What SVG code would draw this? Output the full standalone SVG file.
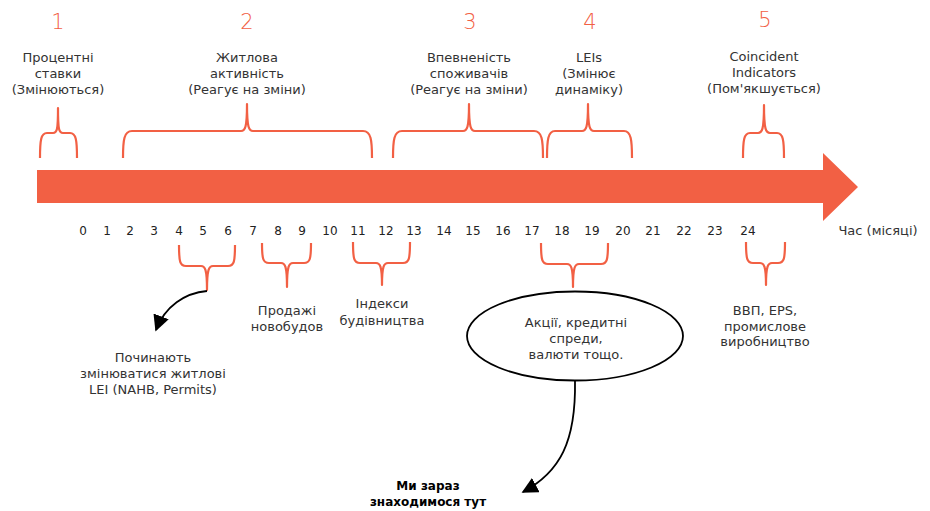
<svg xmlns="http://www.w3.org/2000/svg" width="930" height="511" viewBox="0 0 930 511">
<defs>
<style>
.num{font-family:"DejaVu Sans","Liberation Sans",sans-serif;font-size:21px;fill:#F26044;text-anchor:middle;font-weight:300}
.lbl{font-family:"DejaVu Sans","Liberation Sans",sans-serif;font-size:13px;fill:#333;text-anchor:middle}
.tick{font-family:"DejaVu Sans","Liberation Sans",sans-serif;font-size:12px;fill:#222;text-anchor:middle}
.bold{font-family:"DejaVu Sans","Liberation Sans",sans-serif;font-size:12px;fill:#000;text-anchor:middle;font-weight:bold}
.brace{fill:none;stroke:#F26044;stroke-width:2.2;stroke-linejoin:round}
.conn{fill:none;stroke:#000;stroke-width:1.8}
</style>
<marker id="ah" viewBox="0 0 10 10" refX="9" refY="5" markerWidth="9" markerHeight="9" orient="auto" markerUnits="strokeWidth">
<path d="M0,0 L10,5 L0,10 Z" fill="#000"/>
</marker>
</defs>
<rect width="930" height="511" fill="#fff"/>

<g id="timeline">
<path d="M37,170 H823 V153 L858,187 L823,221 V203 H37 Z" fill="#F26044"/>
</g>

<g id="ticks">
<text class="tick" x="83" y="235">0</text>
<text class="tick" x="107" y="235">1</text>
<text class="tick" x="130" y="235">2</text>
<text class="tick" x="154" y="235">3</text>
<text class="tick" x="179" y="235">4</text>
<text class="tick" x="203" y="235">5</text>
<text class="tick" x="228" y="235">6</text>
<text class="tick" x="253" y="235">7</text>
<text class="tick" x="278" y="235">8</text>
<text class="tick" x="302" y="235">9</text>
<text class="tick" x="330" y="235">10</text>
<text class="tick" x="358" y="235">11</text>
<text class="tick" x="386" y="235">12</text>
<text class="tick" x="414" y="235">13</text>
<text class="tick" x="444" y="235">14</text>
<text class="tick" x="473" y="235">15</text>
<text class="tick" x="503" y="235">16</text>
<text class="tick" x="532" y="235">17</text>
<text class="tick" x="562" y="235">18</text>
<text class="tick" x="592" y="235">19</text>
<text class="tick" x="623" y="235">20</text>
<text class="tick" x="653" y="235">21</text>
<text class="tick" x="684" y="235">22</text>
<text class="tick" x="715" y="235">23</text>
<text class="tick" x="748" y="235">24</text>
<text class="lbl" x="878" y="235">Час (місяці)</text>
</g>

<g id="stage1">
<text class="num" x="58" y="29">1</text>
<text class="lbl" x="58" y="62">Процентні</text>
<text class="lbl" x="58" y="78">ставки</text>
<text class="lbl" x="58" y="94">(Змінюються)</text>
<path class="brace" d="M40,158 C40,140 41,133 47,133 H53 C57,133 58,130 58,108 C58,130 59,133 63,133 H70 C76,133 77,140 77,158"/>
</g>

<g id="stage2">
<text class="num" x="247" y="29">2</text>
<text class="lbl" x="247" y="62">Житлова</text>
<text class="lbl" x="247" y="78">активність</text>
<text class="lbl" x="247" y="94">(Реагує на зміни)</text>
<path class="brace" d="M123,158 C123,140 124,131 132,131 H241 C245,131 247,128 247,104 C247,128 249,131 253,131 H363 C371,131 372,140 372,158"/>
</g>

<g id="stage3">
<text class="num" x="470" y="29">3</text>
<text class="lbl" x="469" y="62">Впевненість</text>
<text class="lbl" x="469" y="78">споживачів</text>
<text class="lbl" x="469" y="94">(Реагує на зміни)</text>
<path class="brace" d="M393,158 C393,140 394,131 402,131 H463 C467,131 469,128 469,104 C469,128 471,131 475,131 H534 C542,131 543,140 543,158"/>
</g>

<g id="stage4">
<text class="num" x="590" y="29">4</text>
<text class="lbl" x="589" y="62">LEIs</text>
<text class="lbl" x="589" y="78">(Змінює</text>
<text class="lbl" x="589" y="94">динаміку)</text>
<path class="brace" d="M547,158 C547,140 548,131 555,131 H582 C586,131 588,128 588,104 C588,128 590,131 594,131 H624 C631,131 632,140 632,158"/>
</g>

<g id="stage5">
<text class="num" x="765" y="27">5</text>
<text class="lbl" x="764" y="61">Coincident</text>
<text class="lbl" x="764" y="77">Indicators</text>
<text class="lbl" x="764" y="93">(Пом'якшується)</text>
<path class="brace" d="M743,158 C743,140 744,133 750,133 H758 C762,133 764,130 764,105 C764,130 766,133 770,133 H777 C783,133 784,140 784,158"/>
</g>

<g id="housing-lei">
<path class="brace" d="M179,245 C179,262 180,266 186,266 H201 C205,266 207,269 207,290 C207,269 209,266 213,266 H228 C234,266 235,262 235,245"/>
<text class="lbl" x="153" y="362">Починають</text>
<text class="lbl" x="153" y="378">змінюватися житлові</text>
<text class="lbl" x="153" y="394">LEI (NAHB, Permits)</text>
</g>

<g id="new-home-sales">
<path class="brace" d="M262,243 C262,259 263,263 269,263 H281 C285,263 287,266 287,287 C287,266 289,263 293,263 H304 C310,263 311,259 311,243"/>
<text class="lbl" x="287" y="315">Продажі</text>
<text class="lbl" x="287" y="331">новобудов</text>
</g>

<g id="construction">
<path class="brace" d="M353,242 C353,259 354,263 360,263 H376 C380,263 382,266 382,285 C382,266 384,263 388,263 H403 C409,263 410,259 410,242"/>
<text class="lbl" x="382" y="308">Індекси</text>
<text class="lbl" x="382" y="325">будівництва</text>
</g>

<g id="markets">
<path class="brace" d="M541,243 C541,260 542,264 548,264 H567 C571,264 573,267 573,287 C573,267 575,264 579,264 H601 C607,264 608,260 608,243"/>
<ellipse cx="575" cy="336" rx="108" ry="44.5" fill="#fff" stroke="#000" stroke-width="1.8"/>
<text class="lbl" x="576" y="327">Акції, кредитні</text>
<text class="lbl" x="576" y="343">спреди,</text>
<text class="lbl" x="576" y="359">валюти тощо.</text>
</g>

<g id="coincident">
<path class="brace" d="M746,242 C746,259 747,263 753,263 H760 C764,263 766,266 766,285 C766,266 768,263 772,263 H778 C784,263 785,259 785,242"/>
<text class="lbl" x="765" y="315">ВВП, EPS,</text>
<text class="lbl" x="765" y="331">промислове</text>
<text class="lbl" x="765" y="346">виробництво</text>
</g>

<g id="here">
<text class="bold" x="428" y="490">Ми зараз</text>
<text class="bold" x="428" y="506">знаходимося тут</text>
</g>

<g id="connectors">
<path class="conn" d="M207,291 C185,293 165,306 156,330" marker-end="url(#ah)"/>
<path class="conn" d="M575,381 C576,442 560,472 523,492" marker-end="url(#ah)"/>
</g>
</svg>
